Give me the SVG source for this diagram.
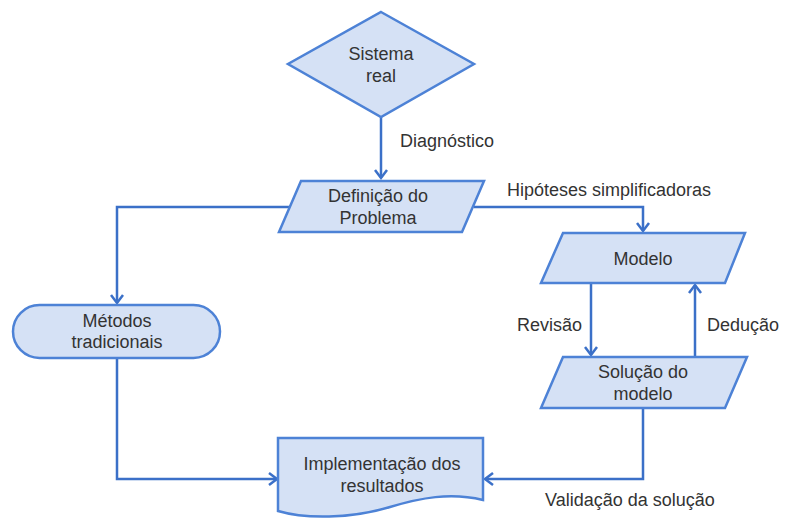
<svg xmlns="http://www.w3.org/2000/svg" width="785" height="521" viewBox="0 0 785 521">
<style>
.n{fill:#d5e1f5;stroke:#4d82d6;stroke-width:2.5;stroke-linejoin:miter}
.c{fill:none;stroke:#3b70c8;stroke-width:2.5}
text{font-family:"Liberation Sans",Arial,sans-serif;font-size:18px;fill:#333;text-anchor:middle}
.l{text-anchor:start}
</style>
<defs>
<marker id="a" markerWidth="14" markerHeight="14" refX="11" refY="7" orient="auto" markerUnits="userSpaceOnUse">
<path d="M3,1 L11,7 L3,13" fill="none" stroke="#3b70c8" stroke-width="2.5"/>
</marker>
</defs>
<rect width="785" height="521" fill="#fff"/>
<g id="connectors">
<path class="c" d="M381,117 V178" marker-end="url(#a)"/>
<path class="c" d="M290,207 H117 V303" marker-end="url(#a)"/>
<path class="c" d="M474,207 H643 V231" marker-end="url(#a)"/>
<path class="c" d="M591,283 V355" marker-end="url(#a)"/>
<path class="c" d="M695,357 V285" marker-end="url(#a)"/>
<path class="c" d="M117,358 V479 H277" marker-end="url(#a)"/>
<path class="c" d="M643,408 V479 H485" marker-end="url(#a)"/>
<text class="l" x="400" y="147">Diagnóstico</text>
<text class="l" x="507" y="196">Hipóteses simplificadoras</text>
<text class="l" x="517" y="331">Revisão</text>
<text class="l" x="707" y="331">Dedução</text>
<text class="l" x="545" y="506">Validação da solução</text>
</g>
<g id="sistema">
<polygon class="n" points="381,12 474,64 381,117 288,64"/>
<text x="381" y="60">Sistema</text>
<text x="381" y="82">real</text>
</g>
<g id="definicao">
<polygon class="n" points="301,181 484,181 462,232 279,232"/>
<text x="378" y="202">Definição do</text>
<text x="378" y="224">Problema</text>
</g>
<g id="modelo">
<polygon class="n" points="563,233 745,233 725,283 541,283"/>
<text x="643" y="265">Modelo</text>
</g>
<g id="solucao">
<polygon class="n" points="563,357 747,357 725,408 541,408"/>
<text x="643" y="378">Solução do</text>
<text x="643" y="400">modelo</text>
</g>
<g id="metodos">
<rect class="n" x="13" y="305" width="207" height="53" rx="26.5"/>
<text x="117" y="327">Métodos</text>
<text x="117" y="348">tradicionais</text>
</g>
<g id="implementacao">
<path class="n" d="M278,438 H483 V500 C450,492 420,498 390,507 C350,519 305,519 278,511 Z"/>
<text x="382" y="470">Implementação dos</text>
<text x="382" y="492">resultados</text>
</g>
</svg>
